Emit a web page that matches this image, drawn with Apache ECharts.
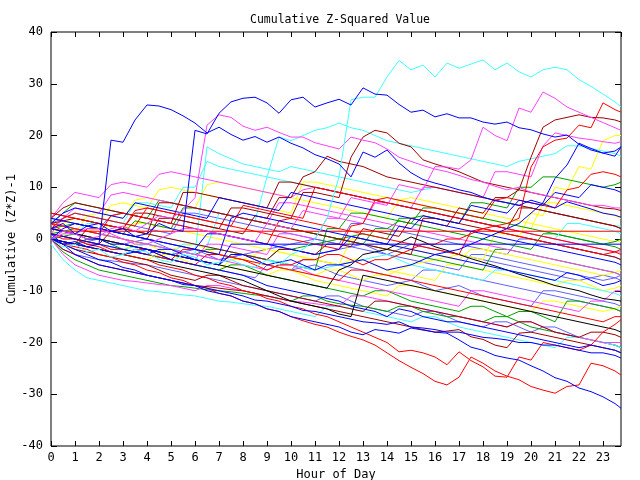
<!DOCTYPE html>
<html>
<head>
<meta charset="utf-8">
<script src="https://cdn.jsdelivr.net/npm/echarts@6/dist/echarts.min.js"></script>
<style>
  html, body { margin: 0; padding: 0; background: #fff; }
  #main { width: 640px; height: 480px; }
</style>
</head>
<body>
<div id="main"></div>
<script>
// sample times, every half hour, the last one is 23:45
var hours = [0,0.5,1,1.5,2,2.5,3,3.5, 4,4.5,5,5.5,6,6.5,7,7.5, 8,8.5,9,9.5,10,10.5,11,11.5,
  12,12.5,13,13.5,14,14.5,15,15.5, 16,16.5,17,17.5,18,18.5,19,19.5, 20,20.5,21,21.5,22,22.5,23,23.5, 23.75];

// blue
var b1 = [0,-1,-0.5,-1.5,-1,19.1,18.7,23, 25.9,25.7,25,23.8,22.4,20.5,21.6,20.2, 19.1,19.8,18.7,19.7,18.5,17.6,16.3,15.5, 14.5,12,16.8,15.8,17.2,14.7,12.8,11.5, 10.8,10.2,9.5,9,8.1,7.4,7,6.5, 7.5,6.8,6,7.2,6.5,5.8,5,4.6, 4.2];
var b2 = [2,3,1,2.5,3,1.5,2,0.5, 1,3,2,1.5,21,20.3,24.3,26.5, 27.2,27.4,26.3,24.3,26.9,27.4,25.5,26.3, 27,25.9,29.2,28,27.8,26,24.5,24.9, 23.6,24.2,23.4,23.4,22.6,22.2,22.6,21.5, 21.1,20.3,19.7,20.1,18.3,17.2,16.6,17, 17.8];
var b3 = [1,0.5,0,-0.5,-1,-1.5,-2,-2.5, -3,-2,-2,-3,-4,-4.5,-5,-3, -3,-4,-5,-4.5,-4,-5,-6,-5, -5,-4.5,-4,-5,-6,-5.5,-5,-4, -3,-2.5,-2,-1,0,1,2,3, 5,7,11.7,14.3,18.5,17.5,16.6,16, 17.8];
var b4 = [0,-1,-2,-3,-4,-4.5,-5.5,-6, -7,-7.5,-8,-8.5,-9,-10,-10.5,-11, -12,-12.5,-13.5,-14,-15,-15.5,-16,-16.5, -17,-18,-18.5,-17.5,-17.8,-18.2,-17.2,-17.6, -18,-18.2,-19.5,-20.9,-21.5,-22.5,-23,-23.4, -24.5,-25.5,-26.8,-27.5,-28.8,-29.5,-30.5,-31.8, -32.7];
var b5 = [1,-1,-3,-4,-5,-5.5,-6,-6.5, -7,-7.5,-8,-8.8,-9,-9.5,-10,-10.5, -11,-11.8,-12,-12.5,-13,-13.8,-14,-14.5, -15,-15.5,-16,-16.2,-16.5,-16,-17,-17.2, -17.5,-18,-18,-18.5,-19,-19.2,-19.5,-20, -20,-20.5,-20.5,-21,-21.5,-22,-22,-22.5, -23];
var b6 = [2,1.5,1,0,0,-1,-1,-1.5, -2,-3,-4,-4.5,-5,-5.5,-6,-6.5, -7,-8,-9,-9.5,-10,-10.5,-11,-11.5, -12,-13,-13.5,-14,-15,-13.5,-14,-15, -15.5,-16,-16,-16.5,-17,-17.5,-18,-18.5, -19,-19.5,-20,-20.5,-21,-20.5,-21,-21.5, -22];
var b7 = [0,2,3,2.5,2,1.5,1,0.5, 0,-0.5,-1,-1.5,-2,-2.5,-3,4, 5,4.5,4,3.5,3,2.5,2,1.5, 1,0.5,0,-0.5,-1,-1.5,-2,-2.5, -3,-3.5,-4,-4.5,-5,-5.5,-6,-6.5, -7,-7.5,-8,-6.5,-7,-8,-9,-8.5, -8];
var b8 = [0,-0.5,-1,-1.5,-2,-2.5,-3,-2.5, -2,-2.5,-3,-3.5,-4,-4.5,-5,-1, -1,-1,-1,-1,-1,-1,-1,-1, -1,-1,-1,-1,-1,-1,-1,-1, -1,-1,-1,-1,-1,-1,-1,-1, -1,-1,-1,-1,-1,-1,-1,-1, -1];
var b9 = [4,3.5,3,2.5,2,1.5,1,0.5, 0,-0.5,-1,-1.5,-2,1,1,0.5, 0,-0.5,-1,-1.5,-2,-2.5,-3,-2.5, -2,0.5,0,-0.5,-1,2.5,2,4.5, 4,3.5,3,6.5,6,5.5,5,7.5, 7,6.5,9,8.5,8,10.5,10,9.5, 9];
var b10 = [3,5,6,5.5,5,4.5,4,7, 6.5,6,5.5,5,4.5,4,8,7.5, 7,6.5,6,5.5,9,8.5,8,7.5, 7,6.5,6,5.5,5,4.5,4,3.5, 3,2.5,2,1.5,1,0.5,0,-0.5, -1,-1.5,-2,-2.5,-3,-3.5,-4,-4.5, -5];
// red
var r1 = [0,-1,-1,-1.5,-2,-2.5,-3,-2, -2,-3,-4,-4.5,-5,-3,-3,-3.5, -4,-5,-6,-5,-5,-4,-4,-3, -3,-4,-5,-4,-4,-3,-2,-1, -1,0,0,1,2,2.5,3,4, 13.9,17.8,19.1,19.5,22,21.5,26.3,25, 24.5];
var r2 = [0,-1,-1.5,-2,-3,-3.5,-4.5,-5, -6,-6.5,-7.5,-8,-9,-9.5,-10.5,-11, -12,-12.5,-13.5,-14,-15,-15.8,-16.5,-17, -18,-18.8,-19.5,-20.5,-22,-23.5,-24.8,-26, -27.5,-28.2,-26.7,-22.8,-24,-25.5,-26.5,-27.2, -28.5,-29.2,-29.8,-28.5,-28.2,-24,-24.5,-25.5, -26.3];
var r3 = [1,0.5,0,-1,-1.5,-2.5,-3,-3.5, -4,-5,-5.5,-6,-7,-7.5,-8.5,-9, -10,-10.5,-11.5,-12,-13,-13.5,-14.5,-15, -16,-17,-18,-19,-20,-21.8,-21.5,-22, -22.8,-24.3,-21.8,-23.5,-24.7,-26.5,-26.7,-22.8, -23.4,-20,-20.5,-21,-21.5,-20.5,-18,-16.5, -15.6];
var r4 = [3,1.5,1.5,1.5,1.5,1.5,1.5,1.5, 1.5,1.5,1.5,1.5,1.5,1.5,1.5,1.5, 1.5,1.5,1.5,1.5,1.5,1.5,1.5,1.5, 1.5,1.5,1.5,1.5,1.5,1.5,1.5,1.5, 1.5,1.5,1.5,1.5,1.5,1.5,1.5,1.5, 1.5,1.5,1.5,1.5,1.5,1.5,1.5,1.5, 1.5];
var r5 = [3,2.5,2,1.5,1,4.5,5,4.5, 4,3.5,3,2.5,2,1.5,1,0.5, 0,-0.5,-1,3.5,4,3.5,3,2.5, 2,1.5,1,0.5,0,-0.5,-1,-1.5, -2,-2.5,-3,1.5,2,1.5,1,0.5, 0,-0.5,-1,-1.5,-2,-2.5,-3,-2.5, -2];
var r6 = [1,0,0,-1,-1,-2,-2,-2.5, -3,-3.5,-4,-2,-2,-2.5,-3,-3.5, -4,-4.5,-5,-5.5,-6,-6.5,-7,-7.5, -8,-6,-6,-6.5,-7,-7.5,-8,-8.5, -9,-9.5,-10,-10.5,-11,-11.5,-12,-12.5, -13,-13.5,-14,-14.5,-15,-15.5,-16,-15, -15];
var r7 = [5,4.5,4,3.5,3,2.5,2,5.5, 6,5.5,5,4.5,4,3.5,3,2.5, 2,1.5,1,0.5,0,-0.5,-1,-1.5, -2,2.5,3,7.5,8,7.5,7,6.5, 6,5.5,5,4.5,4,7.5,8,7.5, 7,6.5,6,9.5,10,12.5,13,12.5, 12];
var r8 = [2,4,5,4.5,4,3.5,3,2.5, 6,5.5,5,4.5,4,3.5,3,2.5, 6.5,6,5.5,5,4.5,4,10,9.5, 9,8.5,8,7.5,7,6.5,6,5.5, 5,4.5,4,3.5,3,2.5,2,1.5, 1,0.5,0,-0.5,-1,-1.5,-2,-2.5, -3];
// green
var g1 = [2,2.5,3,2.5,2,1.5,1,3.5, 3,2.5,2,6,6,5.5,5,4.5, 4,3.5,3,2.5,2,1.5,1,0.5, 0,-0.5,-1,2,2,3.5,3,2.5, 2,1.5,1,0.5,0,-0.5,-1,-1.5, -2,1,1,0.5,0,-0.5,-1,-1.5, -2];
var g2 = [0,-2.5,-4,-5,-6,-6.5,-7,-7.5, -8,-8.5,-9,-9.2,-9.5,-9.8,-10,-10.2, -10.5,-10.8,-11,-11.5,-12,-11,-11,-12, -12.5,-12.8,-13,-13.5,-14,-13,-13,-14, -14.5,-15,-15,-15.5,-16,-15,-15,-16, -17,-17.5,-18,-18.5,-19,-19.5,-20,-20.5, -21];
var g3 = [1,1.5,2,1.5,1,0.5,0,-0.5, -1,-1.5,-2,-2.5,-3,-2,-2,-2.5, -3,-3.5,-4,-4.5,-5,-5.5,-6,2, 2,5,5,4.5,4,3.5,3,6, 6,5.5,5,4.5,4,3.5,3,2.5, 2,1.5,1,0.5,0,-0.5,-1,-0.5, 0];
var g4 = [0,-0.5,-1,0,0,-1,-2,-2.5, -3,-3.5,-4,-4.5,-5,-5.5,-6,-5, -5,-6,-7,-7.5,-8,-8.5,-9,-9.5, -10,-10.5,-11,-10,-10,-11,-12,-12.5, -13,-13.5,-14,-13,-13,-14,-15,-14, -14,-15,-16,-12,-12,-12.5,-13,-13.5, -14];
var g5 = [0,0.5,1,0.5,0,-0.5,-1,-1.5, -2,-2.5,-3,-3.5,-4,-4.5,-5,-3, -3,-3.5,-4,-2,-2,-1.5,-1,-0.5, 0,0.5,1,0.5,0,4,4,4.5, 4,3.5,3,7,7,6.5,6,10, 10,12,12,11.5,11,10.5,10,10.5, 11];
var g6 = [3,5,7,6.5,6,5.5,5,4.5, 4,7.5,7,6.5,6,5.5,5,4.5, 4,3.5,3,2.5,2,1.5,1,0.5, 0,-0.5,-1,-1.5,-2,-2.5,-3,-3.5, -4,-4.5,-5,-5.5,-6,-2,-2,-2.5, -3,-3.5,-4,-4.5,-5,-5.5,-6,-6.5, -7];
// magenta
var m1 = [0,1.5,1,0,0.5,2,2.5,1.5, 3,4.5,4,5.5,8,22,24,23.5, 21.8,21,21.6,20.6,19.7,19.7,18.6,18, 17.4,19.7,19.1,18.6,17.4,15.8,15,14.2, 13.5,13,12.3,11.5,11,10.2,9.5,10, 9,8.5,8,7.5,7,6.5,6.5,6, 6];
var m2 = [0,1,1,2,2,1,0,-1, -1,0,1,2,2,1.5,1,0.5, 0,-0.5,3,2.5,2,5.5,5,4.5, 4,8,7.5,7,6.5,10.5,10,9.5, 14,13.9,13.5,15.3,21.6,20,19,25.3, 24.5,28.4,27.2,25.5,24.5,23.5,22.5,21.5, 21];
var m3 = [4,7,9,8.5,8,10.5,11,10.5, 10,12.5,13,12.5,12,11.5,11,10.5, 10,9.5,9,8.5,8,9.5,10,9.5, 9,8.5,8,7.5,7,6.5,6,5.5, 5,4.5,4,3.5,3,2.5,2,1.5, 1,0.5,0,-0.5,-1,-1.5,-2,-2.5, -2.5];
var m4 = [2,1.5,1,0.5,0,-0.5,-1,-1.5, -2,-2.5,-3,-3.5,-4,-1,-1,-1.5, -2,-2.5,-3,1,1,0.5,0,4, 4,3.5,3,7,7,6.5,6,10, 10,9.5,9,8.5,8,13,13,12.5, 12,18,20.5,20,19.5,19.2,18.8,18.5, 18.8];
var m5 = [0,-3,-5,-6,-7,-7.5,-8,-8.2, -8.5,-8.8,-9,-9.5,-10,-9,-9,-9.5, -10,-10.5,-11,-11.5,-12,-12.2,-12.5,-12.8, -13,-11,-11,-11.5,-12,-12.5,-13,-13.5, -14,-14.5,-15,-15.5,-16,-16.5,-17,-16, -16,-17,-18,-18.5,-19,-19.5,-20,-20, -20];
var m6 = [3,2.5,2,1.5,1,0.5,0,-0.5, -1,-1.5,-2,-2.5,-3,-3.5,-4,-4.5, -5,-5.5,-6,-5,-5,-6,-7,-7.5, -8,-8.5,-9,-9.5,-10,-10.5,-11,-11.5, -12,-12.5,-13,-10,-10,-10.5,-11,-11.5, -12,-12.5,-13,-13.5,-14,-12,-12,-10, -10];
var m7 = [1,4,6,5.5,5,8.5,9,8.5, 8,7.5,7,6.5,6,5.5,5,4.5, 4,3.5,3,7,7,6.5,6,5.5, 5,4.5,4,3.5,3,2.5,2,1.5, 1,0.5,0,-0.5,-1,-1.5,-2,-2.5, -3,-3.5,-4,-4.5,-5,-5.5,-6,-6.5, -7];
// cyan
var c1 = [0,-1.5,-1,-2.5,-2,-3.5,-3,-2, -2.5,-4,-4.5,-3,-3.5,-5,-4.5,-4, -5,-5.5,-4,-5,-3,-2,0,4, 12,26.9,27.4,27.4,31.3,34.5,32.7,33.6, 31.3,34,33,33.8,34.6,32.7,34,32.3, 31.3,32.7,33.2,32.7,30.8,29.5,28,26.5, 25.5];
var c2 = [1,0.5,0,-0.5,-1,-1.5,-2,-1.5, -1,-1.5,-2,-2.5,-3,17.8,16.5,15.5, 14.5,14,13.5,13,14,13.5,13,12.5, 12,11.5,11,10.5,10,9.5,9,9.5, 10,9.5,9,8.5,8,7.5,7,6.5, 6,5.5,5,4.5,4,3.5,3,2.5, 2.5];
var c3 = [2,1.5,1,3,3,2.5,2,1.5, 1,0.5,0,-0.5,-1,-1.5,5,4.5, 4,3.5,12,19.7,19,20,21,21.5, 22.4,21.5,21,20,19,18.5,18,17.5, 17,16.5,16,15.5,15,14.5,14,15, 15.5,16,16.5,18,18,17.5,17,16.5, 16];
var c4 = [-1,-4,-6,-7.5,-8,-8.5,-9,-9.5, -10,-10.2,-10.5,-10.8,-11,-11.5,-12,-12.2, -12.5,-12.8,-13,-13.5,-14,-14.5,-15,-13, -13,-13.5,-14,-14.5,-15,-15.5,-16,-15, -15,-16,-17,-17.5,-18,-18.5,-19,-19.5, -20,-20.5,-21,-19,-19,-19.5,-20,-20.5, -21];
var c5 = [0,-0.5,-1,-1.5,-2,-2.5,-3,-2.5, -2,-2.5,-3,-1,-1,-1.5,-2,-2.5, -3,-3.5,-4,-4.5,-5,-5.5,-6,-5.5, -5,-4.5,-4,-3.5,-3,-4,-5,-5.5, -6,-6.5,-7,-7.5,-8,-6,-6,-6.5, -7,-7.5,-8,-8.5,-9,-9.5,-10,-10.5, -11];
var c6 = [2,4,5,4.5,4,3.5,3,7, 7,6.5,6,10,10,15,14,13.5, 13,12.5,12,11.5,11,10.5,10,9.5, 9,8.5,8,7.5,7,6.5,6,5.5, 5,4.5,4,3.5,3,2.5,2,1.5, 1,0.5,0,3,3,2.5,2,1.5, 1];
// dark red
var d1 = [0,-0.5,-1,2,2,1.5,1,0.5, 0,4,4,3.5,3,2.5,2,6, 6,5.5,5,4.5,4,9,9,8.5, 8,15.8,19.7,21,20.5,18.5,17.8,15.3, 14.5,13.8,13,12,11,10.5,10,9.5, 9,8.5,8,7.5,7,6.5,6,5.8, 5.5];
var d2 = [1,0.5,0,-0.5,-1,1.5,2,1.5, 1,0.5,0,-0.5,-1,-1.5,-2,-2.5, -3,-3.5,-4,-2,-2,-2.5,-3,-1, -1,-1.5,2,1.5,1,0.5,4,3.5, 3,2.5,6,5.5,5,8,8,9.5, 15.8,21.6,23,23.5,24,23.5,23.4,23, 22.6];
var d3 = [3,3.5,4,3.5,3,2.5,2,5, 5,4.5,4,3.5,3,2.5,2,1.5, 1,4.5,4,8,8,12,13,16, 15,14.5,14,13,12,11.5,11,10.5, 10,9.5,9,8.5,8,7.5,7,6.5, 6,5.5,5,4.5,4,3.5,3,2.5, 2];
var d4 = [0,-2,-3,-4,-5,-5.5,-6,-6.5, -7,-7.5,-8,-8.5,-9,-9.2,-9.5,-9.8, -10,-10.5,-11,-11.5,-12,-12.5,-13,-13.5, -14,-14.5,-15,-15.5,-16,-16.5,-17,-17.5, -18,-17.8,-17.5,-18.9,-19.4,-20.5,-21,-18.2, -18,-18.5,-19,-19.5,-20,-20.5,-21,-21.5, -22];
var d5 = [5,4.5,4,3.5,3,2.5,2,1.5, 1,7,7,6.5,6,5.5,5,4.5, 4,3.5,3,2.5,2,1.5,1,0.5, 0,-0.5,-1,-1.5,-2,-2.5,-3,4, 4,3.5,3,2.5,2,1.5,1,0.5, 0,-0.5,-1,-1.5,-2,-2.5,-3,-3.5, -4];
var d6 = [0,-1,-2,-2.5,-3,-3.5,-4,-4.5, -5,-6,-7,-7.5,-8,-7,-7,-8, -9,-9.5,-10,-10.5,-11,-11.5,-12,-12.5, -13,-13.5,-14,-12,-12,-12.5,-13,-13.5, -14,-14.5,-15,-15.5,-16,-16.5,-17,-16, -16,-17,-18,-18.5,-19,-18,-18,-18.5, -19];
var d7 = [4,6,7,6.5,6,5.5,5,4.5, 4,3.5,3,9,9,8.5,8,7.5, 7,6.5,6,11,11,10.5,10,9.5, 9,8.5,8,7.5,7,6.5,6,5.5, 5,4.5,4,3.5,3,2.5,2,6, 6,5.5,5,4.5,4,3.5,3,2.5, 2];
// yellow
var y1 = [2,1.5,1,4.5,5,4.5,4,7.5, 8,7.5,7,6.5,6,10.5,11,10.5, 10,9.5,9,8.5,8,7.5,7,6.5, 6,5.5,5,4.5,4,7.5,8,7.5, 7,6.5,6,5.5,5,4.5,4,3.5, 3,2.5,2,1.5,1,0.5,0,-0.5, -0.5];
var y2 = [0,-0.5,-1,-1.5,-2,-2.5,-3,-3.5, -4,-3,-3,-4,-5,-5.5,-6,-4, -4,-4.5,-5,-5.5,-6,-6.5,-7,-6, -6,-7,-8,-7,-7,-6,-5,-4.5, -4,-3.5,-3,-3.5,-4,1,1,0.5, 5,4.5,10,9.5,14,13.5,19,20, 20];
var y3 = [1,0.5,0,-0.5,-1,-1.5,-2,-1, -1,-2,-3,-3.5,-4,-4.5,-5,-5.5, -6,-6.5,-7,-6,-6,-7,-8,-8.5, -9,-9.5,-10,-10.5,-11,-9,-9,-9.5, -10,-10.5,-11,-11.5,-12,-12.5,-13,-13.5, -14,-12,-12,-12.5,-13,-13.5,-14,-13.5, -13];
var y4 = [3,2.5,2,1.5,2,2.5,2,3, 3,2.5,2,1.5,1,0.5,0,-0.5, -1,-1.5,-2,-2.5,-3,-3.5,-4,-4.5, -5,-4,-4,-5,-6,-6.5,-7,-7.5, -8,-5,-5,-5.5,-6,-6.5,-7,-7.5, -8,-8.5,-9,-8,-8,-9,-10,-9.5, -9];
var y5 = [0,1,2,1.5,1,0.5,0,-0.5, -1,-1.5,-2,-1.5,-1,-2,-3,-3.5, -4,-3,-2,-2.5,-3,-3.5,-4,-4.5, -5,0,0,-0.5,-1,-1.5,-2,-2.5, -3,-3.5,-4,-2,-2,-2.5,-3,-3.5, -4,-4.5,-5,-5.5,-6,-6.5,-7,-6.5, -6];
var y6 = [1,3,4,3.5,3,6.5,7,6.5, 6,9.5,10,9.5,9,8.5,8,7.5, 7,6.5,6,5.5,5,11,11,10.5, 10,9.5,9,8.5,8,7.5,7,6.5, 6,5.5,5,4.5,4,3.5,3,2.5, 2,7,7,6.5,6,5.5,5,4.5, 4];
// slate blue
var s1 = [0,-2,-3,-3.5,-4,-4.2,-4.5,-4.8, -5,-5.5,-6,-6.5,-7,-7.5,-8,-8.5, -9,-9.5,-10,-10.5,-11,-11.5,-12,-11, -11,-12,-13,-13.5,-14,-14.5,-15,-14, -14,-15,-16,-16.5,-17,-16,-16,-17, -18,-17,-17,-18,-19,-19.5,-20,-20.5, -21];
var s2 = [2,1.5,1,0.5,0,-0.5,-1,-0.5, 0,-1,-2,-2.5,-3,-3.5,-4,-3.5, -3,-4,-5,-5.5,-6,-5.5,-5,-6, -7,-7.5,-8,-8.5,-9,-8.5,-8,-9, -10,-9.5,-9,-10,-11,-11.5,-12,-12.5, -13,-10,-10,-10.5,-11,-11.5,-12,-12.5, -13];
var s3 = [1,0.5,0,-0.5,-1,-1.5,-2,-2.5, -3,-3.5,-4,-4.5,-5,-5.5,-6,-6.5, -7,-7.5,-5,-5.5,-6,-4,-4,-4.5, -5,-5.5,-6,-6.5,-7,-7.5,-8,-6, -6,-6.5,-7,-7.5,-8,-8.5,-9,-9.5, -10,-10.5,-11,-11.5,-12,-12.5,-13,-13.5, -14];
var s4 = [4,3.5,3,2.5,2,4.5,5,4.5, 4,3.5,3,2.5,2,1.5,1,0.5, 0,-0.5,-1,-1.5,-2,-2.5,-3,-2.5, -2,-1.5,-1,-2,-3,-3.5,-4,-4.5, -5,-5.5,-6,-3,-3,-3.5,-4,-4.5, -5,-5.5,-6,-6.5,-7,-7.5,-8,-7.5, -7];
var s5 = [0,-0.5,-1,-0.5,0,-0.5,-1,-1.5, -2,-2.5,-3,-2.5,-2,-3,-4,-3.5, -3,-2.5,-2,-1.5,-1,-0.5,0,-0.5, -1,-1.5,-2,-2.5,-3,-2,-1,-1.5, -2,-2.5,-3,-3.5,-4,-4.5,-5,-5.5, -6,-6.5,-7,-7.5,-8,-7.5,-7,-7.5, -8];
var s6 = [3,4,5,4.5,4,3.5,3,2.5, 2,1.5,1,5,5,4.5,4,3.5, 3,2.5,2,1.5,1,0.5,0,-0.5, -1,3,3,2.5,2,1.5,1,0.5, 0,-0.5,-1,-1.5,-2,-2.5,-3,0, 0,-0.5,-1,-1.5,-2,-2.5,-3,-3.5, -4];
// black
var k1 = [2,1.5,1,0.5,0,-0.5,-1,-1.5, -2,-2.5,-3,-3.5,-4,-4.5,-5,-5.5, -6,-6.5,-7,-7.5,-8,-8.5,-9,-9.5, -6,-5,-3,-2.5,-2,-0.8,0.4,-0.5, -1.5,-2.2,-3,-3.8,-4.5,-5.2,-6,-6.8, -7.5,-8.2,-9,-9.5,-10,-10.8,-11.5,-11.8, -12];
var k2 = [0,-0.5,-1,-1.5,-2,-2.5,-3,-3.5, -4,-4.5,-5,-5.5,-6,-6.5,-7,-7.5, -8,-9,-10,-11,-12,-12.5,-13,-13.5, -14.5,-15,-7,-7.5,-8,-8.5,-9,-9.5, -10,-10.5,-11,-11.5,-12,-12.5,-13,-13.5, -14,-14.5,-15,-15.5,-16,-16.5,-17,-17.5, -18];

// drawing order: the crowded middle first, the stand-out lines on top
var groups = [
  ['#6060ff', [s1, s2, s3, s4, s5, s6]],
  ['#ffff00', [y1, y2, y3, y4, y5, y6]],
  ['#00a000', [g1, g2, g3, g4, g5, g6]],
  ['#40ffff', [c2, c3, c4, c5, c6]],
  ['#ff40ff', [m3, m4, m5, m6, m7]],
  ['#a00000', [d1, d2, d3, d4, d5, d6, d7]],
  ['#000000', [k1, k2]],
  ['#ff0000', [r1, r2, r3, r4, r5, r6, r7, r8]],
  ['#0000ff', [b3, b4, b5, b6, b7, b8, b9, b10]],
  ['#ff40ff', [m1, m2]],
  ['#40ffff', [c1]],
  ['#0000ff', [b1, b2]]
];

var font = 'DejaVu Sans Mono';
var series = [];
groups.forEach(function (g) {
  g[1].forEach(function (vals) {
    series.push({
      type: 'line',
      showSymbol: false,
      silent: true,
      lineStyle: { color: g[0], width: 1 },
      data: hours.map(function (h, i) { return [h, vals[i]]; })
    });
  });
});

var tickStyle = { inside: true, length: 5, lineStyle: { color: '#000' } };

var chart = echarts.init(document.getElementById('main'));
var option = {
  animation: false,
  title: {
    text: 'Cumulative Z-Squared Value',
    left: 245,
    top: 9,
    textStyle: { fontFamily: font, fontSize: 11.5, fontWeight: 'normal', color: '#000' }
  },
  grid: {
    left: 51, right: 19, top: 32, bottom: 34,
    containLabel: false, outerBoundsMode: 'none',
    show: true, borderColor: '#000', borderWidth: 1
  },
  xAxis: [{
    type: 'value', min: 0, max: 23.75, interval: 1,
    name: 'Hour of Day', nameLocation: 'middle', nameGap: 21,
    nameTextStyle: { fontFamily: font, fontSize: 12, color: '#000' },
    axisLine: { show: false, onZero: false },
    axisTick: tickStyle,
    axisLabel: { fontFamily: font, fontSize: 12, color: '#000', margin: 6 },
    splitLine: { show: false }
  }, {
    type: 'value', min: 0, max: 23.75, interval: 1, position: 'top',
    axisLine: { show: false, onZero: false },
    axisTick: tickStyle,
    axisLabel: { show: false },
    splitLine: { show: false }
  }],
  yAxis: [{
    type: 'value', min: -40, max: 40, interval: 10,
    name: 'Cumulative (Z*Z)-1', nameLocation: 'middle', nameGap: 33,
    nameMoveOverlap: false,
    nameTextStyle: { fontFamily: font, fontSize: 12, color: '#000' },
    axisLine: { show: false, onZero: false },
    axisTick: { inside: true, length: 6, lineStyle: { color: '#000' } },
    axisLabel: { fontFamily: font, fontSize: 12, color: '#000', margin: 8 },
    splitLine: { show: false }
  }, {
    type: 'value', min: -40, max: 40, interval: 10, position: 'right',
    axisLine: { show: false, onZero: false },
    axisTick: { inside: true, length: 6, lineStyle: { color: '#000' } },
    axisLabel: { show: false },
    splitLine: { show: false }
  }],
  series: series
};
chart.setOption(option);
</script>
</body>
</html>
